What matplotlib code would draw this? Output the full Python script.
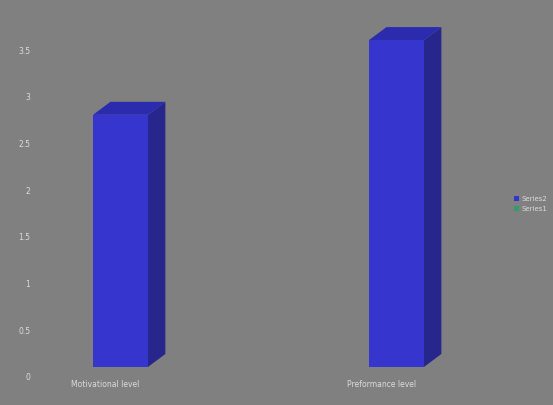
import matplotlib.pyplot as plt
from matplotlib.patches import Polygon, Patch
from matplotlib.transforms import ScaledTranslation

# Data
categories = ['Motivational level', 'Preformance level']
series2 = [2.7, 3.5]
series_names = ['Series2', 'Series1']
series_colors = ['#3535cc', '#2e9e6e']
yticks = [0, 0.5, 1, 1.5, 2, 2.5, 3, 3.5]
ytick_labels = ['0', '0.5', '1', '1.5', '2', '2.5', '3', '3.5']

bg = '#808080'
front = '#3636cf'
side = '#26268c'
top = '#2b2bae'
txt = '#dcdcdc'

fig = plt.figure(figsize=(5.53, 4.05), dpi=100, facecolor=bg)
ax = fig.add_axes([40 / 553, (405 - 372) / 405, 440 / 553, 352 / 405])
ax.set_facecolor(bg)

x = list(range(len(categories)))
width = 0.199
dx, dy = 0.063, 0.139   # 3D depth offsets

ax.bar(x, series2, width=width, color=front, zorder=3)
for xi, v in zip(x, series2):
    l, r = xi - width / 2, xi + width / 2
    ax.add_patch(Polygon([(r, 0), (r + dx, dy), (r + dx, v + dy), (r, v)],
                         closed=True, facecolor=side, edgecolor='none', zorder=2))
    ax.add_patch(Polygon([(l, v), (l + dx, v + dy), (r + dx, v + dy), (r, v)],
                         closed=True, facecolor=top, edgecolor='none', zorder=2))

ax.set_xlim(-0.2917, 1.3025)
ax.set_ylim(-0.054, 3.715)

for s in ax.spines.values():
    s.set_visible(False)
ax.tick_params(length=0, colors=txt)

ax.set_yticks(yticks)
ax.set_yticklabels(ytick_labels, fontsize=5.5, color=txt)
ax.tick_params(axis='y', pad=7)
down = ScaledTranslation(0, -0.10, fig.dpi_scale_trans)
for lab in ax.get_yticklabels():
    lab.set_transform(lab.get_transform() + down)

ax.set_xticks(x)
ax.set_xticklabels(categories, fontsize=5.5, color=txt)
ax.tick_params(axis='x', pad=6)
left = ScaledTranslation(-0.15, 0, fig.dpi_scale_trans)
for lab in ax.get_xticklabels():
    lab.set_transform(lab.get_transform() + left)

handles = [Patch(facecolor=c, edgecolor='none') for c in series_colors]
leg = fig.legend(handles, series_names, loc='center left',
                 bbox_to_anchor=(508 / 553, 1 - 204 / 405), frameon=False,
                 fontsize=5, handlelength=0.7, handleheight=0.7,
                 handletextpad=0.4, labelspacing=0.5, labelcolor=txt)

fig.savefig('out.png', dpi=100, facecolor=bg)
